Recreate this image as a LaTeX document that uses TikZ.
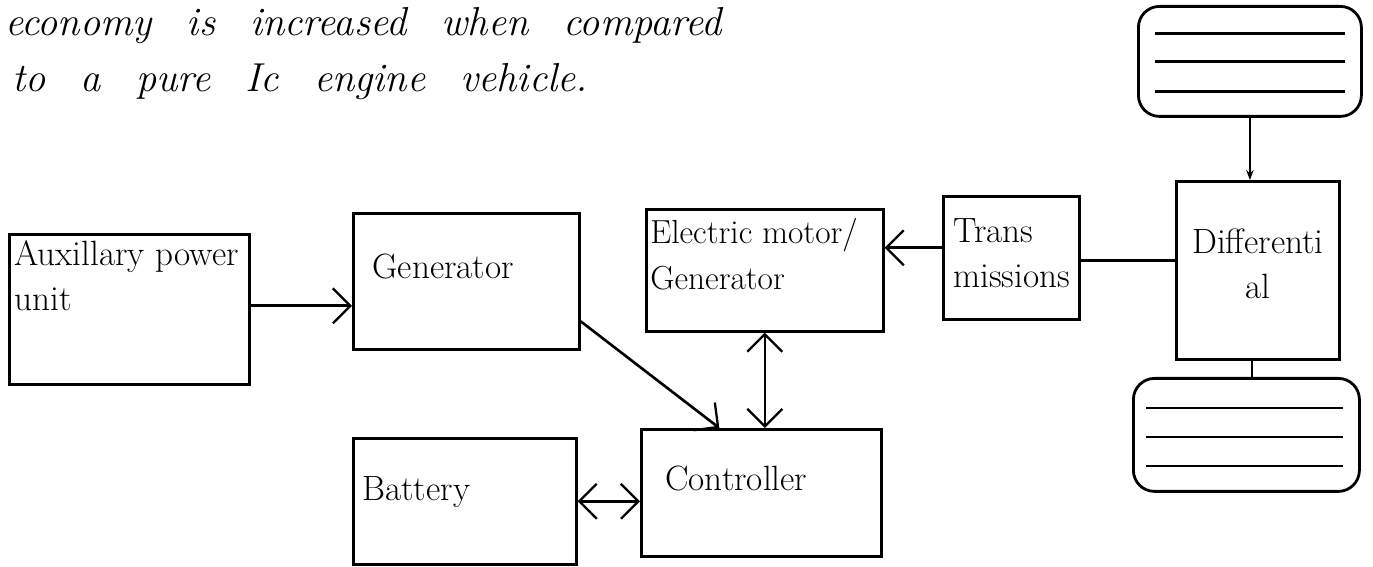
\documentclass[tikz,border=0pt]{standalone}
\usetikzlibrary{arrows.meta,calc}
\newcommand{\wsp}{\spaceskip=20pt plus 2pt\relax}
\begin{document}
\begin{tikzpicture}[x=0.02cm,y=-0.02cm,
  box/.style={draw,line width=1.5pt,inner sep=0pt,anchor=north west},
  txt/.style={anchor=north west,align=left,inner sep=0pt,font=\fontsize{20}{26}\selectfont},
  wheel/.style={draw,line width=1.6pt,rounded corners=12pt,inner sep=0pt,anchor=north west},
  conn/.style={line width=1.5pt},
  harrow/.style={conn,-{Straight Barb[length=3.5mm,width=7mm,line width=1.3pt]}},
  darrow/.style={conn,{Straight Barb[length=3.5mm,width=7mm,line width=1.3pt]}-{Straight Barb[length=3.5mm,width=7mm,line width=1.3pt]}},
  head/.style={anchor=base west,inner sep=0pt,font=\fontsize{23}{30}\selectfont\itshape}]
\useasboundingbox (0,0) rectangle (1373,567);
% header text
\node[head] (h1) at (5,36) {\wsp economy is increased when compared};
\node[head] (h2) at (12,92) {\wsp to a pure Ic engine vehicle.};
% boxes
\node[box,minimum width=240*0.02cm,minimum height=150*0.02cm] (aux) at (8,233) {};
\node[txt] (auxt) at (14,240) {Auxillary power\\unit};
\node[box,minimum width=226*0.02cm,minimum height=136*0.02cm] (gen) at (352,212) {};
\node[txt] (gent) at (372,254) {Generator};
\node[box,minimum width=237*0.02cm,minimum height=122*0.02cm] (mot) at (645,208) {};
\node[txt,font=\fontsize{19}{26}\selectfont] (mott) at (650,218) {Electric motor/\\Generator};
\node[box,minimum width=136*0.02cm,minimum height=123*0.02cm] (tra) at (942,195) {};
\node[txt] (trat) at (953,218) {Trans\\missions};
\node[box,minimum width=163*0.02cm,minimum height=178*0.02cm] (dif) at (1175,180) {};
\node[txt,align=center,anchor=north] (dift) at (1258,228) {Differenti\\al};
\node[box,minimum width=223*0.02cm,minimum height=126*0.02cm] (bat) at (352,437) {};
\node[txt] (batt) at (362,476) {Battery};
\node[box,minimum width=240*0.02cm,minimum height=127*0.02cm] (con) at (640,428) {};
\node[txt] (cont) at (665,466) {Controller};
% wheels
\node[wheel,minimum width=223*0.02cm,minimum height=110*0.02cm] (wt) at (1137,5) {};
\node[wheel,minimum width=226*0.02cm,minimum height=113*0.02cm] (wb) at (1132,377) {};
\foreach \yy in {-28,0,30}
  \draw[conn] ([xshift=18*0.02cm,yshift=-\yy*0.02cm]wt.west) -- ([xshift=-18*0.02cm,yshift=-\yy*0.02cm]wt.east);
\foreach \yy in {-27,2,31}
  \draw[conn] ([xshift=14*0.02cm,yshift=-\yy*0.02cm]wb.west) -- ([xshift=-18*0.02cm,yshift=-\yy*0.02cm]wb.east);
% connectors
\draw[harrow] ([yshift=2pt]aux.east) -- ([yshift=2pt]aux.east -| gen.west);
\draw[harrow] ([yshift=-0.8cm]gen.east) -- ([xshift=-42*0.02cm]con.north);
\draw[darrow] (mot.south) -- (mot.south |- con.north);
\draw[harrow] ([yshift=0.2cm]tra.west) -- ([yshift=0.2cm]tra.west -| mot.east);
\draw[conn] ([yshift=0.2cm]dif.west) -- ([yshift=0.2cm]dif.west -| tra.east);
\draw[conn,-{Stealth[length=2mm,width=1.5mm]}] (wt.south) -- (wt.south |- dif.north);
\draw[conn] ([xshift=-6*0.02cm]dif.south) -- ([xshift=-6*0.02cm]dif.south |- wb.north);
\draw[darrow] (bat.east) -- (bat.east -| con.west);
\end{tikzpicture}
\end{document}
